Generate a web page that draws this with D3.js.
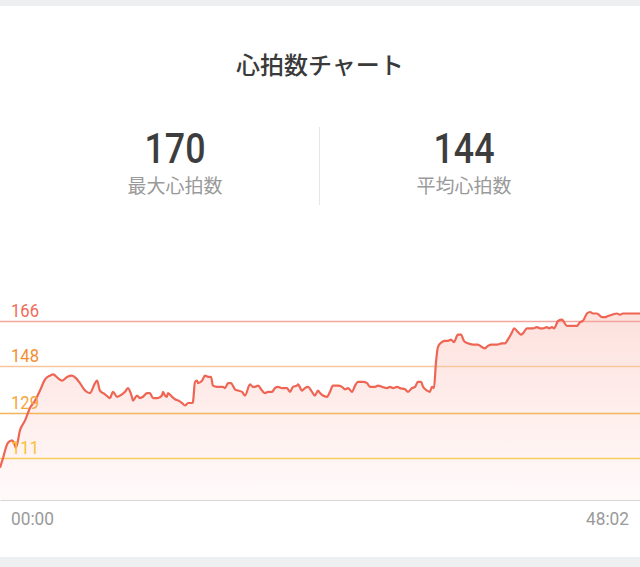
<!DOCTYPE html>
<html>
<head>
<meta charset="utf-8">
<script src="https://cdn.jsdelivr.net/npm/d3@7"></script>
<style>
  html, body { margin: 0; padding: 0; background: #ffffff; }
  svg { display: block; }
  text { font-family: Roboto, "Noto Sans CJK JP", "Noto Sans", sans-serif; }
</style>
</head>
<body>
<script>
// ---------- data ----------
const title = "心拍数チャート";
const statValues = ["170", "144"];
const statLabels = ["最大心拍数", "平均心拍数"];
const zoneValues = [166, 148, 129, 111];
const zoneLabelColors = ["#ef6b5a", "#f28f33", "#f3a53c", "#f6c232"];
const zoneLineColors = ["#f3a49b", "#f6c79e", "#f3b45c", "#f6cd60"];
const timeLabels = ["00:00", "48:02"];
const durationSec = 2882;
// time in seconds
const times = [0,14,23,36,54,63,72,90,113,135,158,180,203,225,239,261,279,302,324,342,360,383,405,428,437,450,473,495,509,527,549,563,576,594,599,617,630,644,662,675,689,711,729,734,743,752,756,775,788,802,820,833,847,865,869,878,887,892,910,923,937,950,959,977,991,1004,1013,1027,1040,1058,1072,1090,1103,1126,1139,1148,1162,1180,1193,1207,1225,1238,1252,1270,1292,1306,1319,1337,1342,1360,1373,1387,1405,1418,1432,1441,1454,1472,1486,1499,1522,1540,1554,1567,1585,1599,1612,1635,1653,1666,1689,1702,1720,1743,1756,1770,1788,1801,1824,1837,1855,1869,1882,1896,1905,1923,1936,1945,1954,1963,1972,1990,2004,2017,2031,2044,2062,2076,2089,2107,2130,2152,2170,2184,2197,2215,2238,2260,2274,2287,2306,2315,2333,2346,2355,2373,2387,2400,2418,2432,2445,2463,2472,2486,2495,2513,2531,2540,2553,2576,2598,2612,2625,2643,2657,2670,2688,2711,2724,2738,2756,2778,2792,2805,2828,2882];
// heart rate (bpm)
const bpm = [107,111,114,117,118,117,115,122,126,131,134,138,142.5,144,144.5,143,142,143.5,144,143,141,138,137,141,142,138,136.5,135,137.5,135.5,136.5,137.5,139,135.5,134,136,135,135.5,137,137,135,135,136,137.5,136,135.5,137,135.5,134.5,134,133,132,133,133,133.5,141.5,142,141,142,144,143.5,143.5,140,139.5,139.5,139.5,139,141,141,138.5,138,137.5,136,140.5,139.5,139.5,140,138,137,137.5,137.5,139,139.5,139,139,137.5,139.5,140,140.5,138,139,139.5,137.5,136,138,137,136,135.5,137.5,140,140,139.5,138.5,139,137.5,140,141.5,141.5,141,139.5,139.5,140,139.5,139,139.5,139,139.5,139,138.5,137.5,139,139.5,141.5,141.5,139.5,138,137.5,139.5,139,149,155.5,157.5,158,158,158.5,157.5,160.5,160.5,158,157,156.5,156.5,155.5,155,156,156.5,156.5,157,157,158.5,161.5,163,161.5,160.5,161,163,163,163,163.5,163,163,163.5,163,163.5,163,166,166.5,165.5,164,164,164,165.5,166,169,169.6,169,169,167.5,167.5,168,168.5,169,168.5,169,169,169];
const yDomain = [94, 170];

const points = times.map((t, i) => ({ t, v: bpm[i] }));

// ---------- drawing ----------
const W = 640, H = 567;
const svg = d3.select("body").append("svg").attr("width", W).attr("height", H);

// background bands
svg.append("rect").attr("x", 0).attr("y", 0).attr("width", W).attr("height", H).attr("fill", "#ffffff");
svg.append("rect").attr("x", 0).attr("y", 0).attr("width", W).attr("height", 6).attr("fill", "#eeeff1");
svg.append("rect").attr("x", 0).attr("y", 557).attr("width", W).attr("height", 10).attr("fill", "#eeeff1");

// title
svg.append("text").attr("x", 320).attr("y", 74).attr("text-anchor", "middle")
  .attr("font-family", "'Noto Sans CJK JP', sans-serif")
  .attr("font-size", 24).attr("font-weight", 500).attr("fill", "#3a3a3a").text(title);

// stats
const statX = [175, 464];
statValues.forEach((s, i) => {
  svg.append("text").attr("x", statX[i]).attr("y", 163).attr("text-anchor", "middle")
    .attr("font-size", 42).attr("font-weight", 500).attr("fill", "#3d3d3d")
    .attr("textLength", 61).attr("lengthAdjust", "spacingAndGlyphs").text(s);
  svg.append("text").attr("x", statX[i]).attr("y", 193).attr("text-anchor", "middle")
    .attr("font-family", "'Noto Sans CJK JP', sans-serif")
    .attr("font-size", 19).attr("fill", "#9a9a9a").text(statLabels[i]);
});
svg.append("line").attr("x1", 319.5).attr("x2", 319.5).attr("y1", 127).attr("y2", 205)
  .attr("stroke", "#e6e6e6").attr("stroke-width", 1);

// scales
const x = d3.scaleLinear().domain([0, durationSec]).range([0, W]);
const y = d3.scaleLinear().domain(yDomain).range([500, 311]);

// gradient
const defs = svg.append("defs");
const grad = defs.append("linearGradient").attr("id", "areaGrad")
  .attr("x1", 0).attr("y1", 0).attr("x2", 0).attr("y2", 1);
grad.append("stop").attr("offset", "0%").attr("stop-color", "#fde1dd");
grad.append("stop").attr("offset", "100%").attr("stop-color", "#fffafa");

const area = d3.area().x(d => x(d.t)).y0(y(yDomain[0])).y1(d => y(d.v)).curve(d3.curveMonotoneX);
svg.append("path").datum(points).attr("d", area).attr("fill", "url(#areaGrad)");

// zone lines
zoneValues.forEach((z, i) => {
  svg.append("line").attr("x1", 0).attr("x2", W).attr("y1", Math.round(y(z)) + 0.5).attr("y2", Math.round(y(z)) + 0.5)
    .attr("stroke", zoneLineColors[i]).attr("stroke-width", 1.3);
});

// heart rate line
const line = d3.line().x(d => x(d.t)).y(d => y(d.v)).curve(d3.curveMonotoneX);
svg.append("path").datum(points).attr("d", line).attr("fill", "none")
  .attr("stroke", "#ef6554").attr("stroke-width", 2.2).attr("stroke-linejoin", "round");

// zone labels
zoneValues.forEach((z, i) => {
  svg.append("text").attr("x", 11).attr("y", Math.round(y(z)) - 4)
    .attr("font-size", 18).attr("fill", zoneLabelColors[i])
    .attr("textLength", 28).attr("lengthAdjust", "spacingAndGlyphs").text(z);
});

// x axis baseline
const xAxis = d3.axisBottom(x).tickValues([]).tickSize(0);
const axG = svg.append("g").attr("transform", `translate(0,${y(yDomain[0])})`).call(xAxis);
axG.select(".domain").attr("stroke", "#d6d6d6").attr("stroke-width", 1.2);

svg.append("text").attr("x", 11).attr("y", 525).attr("font-size", 19).attr("fill", "#9a9a9a")
  .attr("textLength", 43).attr("lengthAdjust", "spacingAndGlyphs").text(timeLabels[0]);
svg.append("text").attr("x", 629).attr("y", 525).attr("text-anchor", "end").attr("font-size", 19).attr("fill", "#9a9a9a")
  .attr("textLength", 43).attr("lengthAdjust", "spacingAndGlyphs").text(timeLabels[1]);
</script>
</body>
</html>
